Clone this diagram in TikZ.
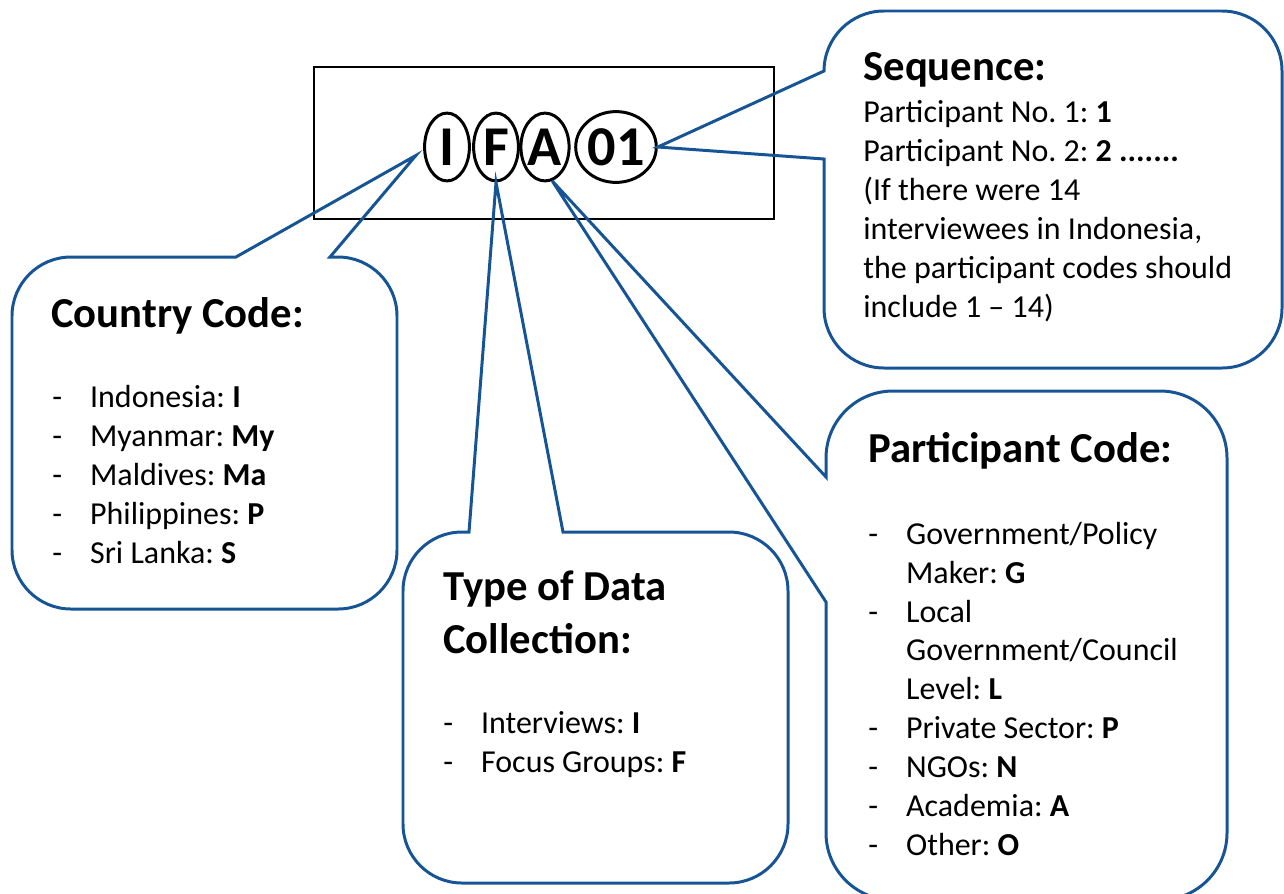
\documentclass[tikz,border=0pt]{standalone}
\usepackage{fontspec}
\setmainfont{Carlito}
\usetikzlibrary{shapes.geometric}
\frenchspacing

\definecolor{calloutblue}{RGB}{22,84,150}
\newcommand{\listdash}{\makebox[21.5pt][l]{-}}
\newcommand{\listgap}{\makebox[21.5pt]{}}

\begin{document}
\begin{tikzpicture}[
  x=0.02cm, y=-0.02cm,
  code/.style={draw, ellipse, line width=1.7pt, inner sep=0pt,
               minimum width=25.5pt, minimum height=38.6pt,
               font=\fontsize{32}{36}\selectfont\bfseries},
  callout/.style={draw=calloutblue, line width=1.7pt},
  % multi-line texts sit on the baseline of their last line
  title/.style={anchor=base west, align=left, inner sep=0pt,
                font=\fontsize{24.3}{30}\selectfont\bfseries},
  body/.style={anchor=base west, align=left, inner sep=0pt,
               font=\fontsize{18.2}{22.1}\selectfont}
]
  \useasboundingbox (0,0) rectangle (1284,893);
  \clip (0,0) rectangle (1284,893);

  % the code itself
  \draw[line width=0.7pt] (314,67) rectangle (774,219);
  \node[code] (country) at (447,147) {I};
  \node[code] (collect) at (496,147) {F};
  \node[code] (partic)  at (545,147) {A};
  \node[code, minimum width=44.2pt, minimum height=40.3pt] (seqno) at (616,147) {01};

  % callouts
  \draw[callout] (236,257) -- ([xshift=-4.5pt]country.200) -- (330,257)
    -- (338,257) arc[start angle=270, end angle=360, radius=59]
    -- (397,550) arc[start angle=0, end angle=90, radius=59]
    -- (71,609) arc[start angle=90, end angle=180, radius=59]
    -- (12,316) arc[start angle=180, end angle=270, radius=59] -- cycle;

  \draw[callout] (469,532) -- (collect.south) -- (563,532)
    -- (729,532) arc[start angle=270, end angle=360, radius=59]
    -- (788,824) arc[start angle=0, end angle=90, radius=59]
    -- (462,883) arc[start angle=90, end angle=180, radius=59]
    -- (403,591) arc[start angle=180, end angle=270, radius=59] -- cycle;

  \draw[callout] (884,11) -- (1222,11) arc[start angle=270, end angle=360, radius=60]
    -- (1282,308) arc[start angle=0, end angle=90, radius=60]
    -- (884,368) arc[start angle=90, end angle=180, radius=60]
    -- (824,159) -- (seqno.east) -- (824,71)
    arc[start angle=180, end angle=270, radius=60] -- cycle;

  \draw[callout] (893,391) -- (1160,391) arc[start angle=270, end angle=360, radius=67]
    -- (1227,833) arc[start angle=0, end angle=90, radius=67]
    -- (893,900) arc[start angle=90, end angle=180, radius=67]
    -- (826,602) -- (partic.-78) -- (826,477)
    -- (826,458) arc[start angle=180, end angle=270, radius=67] -- cycle;

  % texts
  \node[title] (country title) at (51,327) {Country Code:};
  \node[body]  (country list)  at (52,563) {\listdash Indonesia: \textbf{I}\\
    \listdash Myanmar: \textbf{My}\\ \listdash Maldives: \textbf{Ma}\\
    \listdash Philippines: \textbf{P}\\ \listdash Sri Lanka: \textbf{S}};

  \node[title] (collect title) at (443,653) {Type of Data\\Collection:};
  \node[body]  (collect list)  at (443,772) {\listdash Interviews: \textbf{I}\\
    \listdash Focus Groups: \textbf{F}};

  \node[title] (seqno title) at (863,80) {Sequence:};
  \node[body]  (seqno text)  at (863,317) {Participant No. 1: \textbf{1}\\
    Participant No. 2: \textbf{2 .......}\\ (If there were 14\\
    interviewees in Indonesia,\\ the participant codes should\\ include 1 -- 14)};

  \node[title] (partic title) at (868,462) {Participant Code:};
  \node[body]  (partic list)  at (868,855) {\listdash Government/Policy\\
    \listgap Maker: \textbf{G}\\ \listdash Local\\ \listgap Government/Council\\
    \listgap Level: \textbf{L}\\ \listdash Private Sector: \textbf{P}\\
    \listdash NGOs: \textbf{N}\\ \listdash Academia: \textbf{A}\\
    \listdash Other: \textbf{O}};
\end{tikzpicture}
\end{document}
